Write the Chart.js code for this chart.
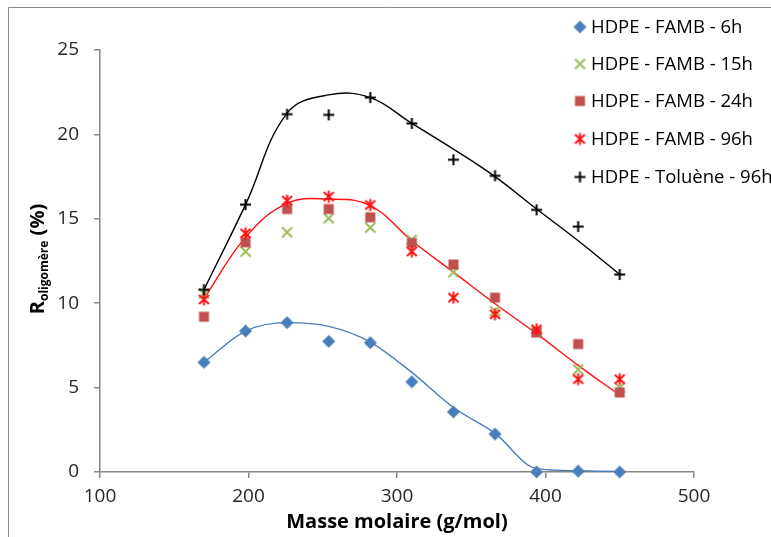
<!DOCTYPE html>
<html>
<head>
<meta charset="utf-8">
<script src="https://cdn.jsdelivr.net/npm/chart.js@4/dist/chart.umd.min.js"></script>
<style>
  html, body { margin: 0; padding: 0; background: #fff; }
  #wrap { position: relative; width: 771px; height: 537px; }
</style>
</head>
<body>
<div id="wrap"><canvas id="myChart" width="771" height="537"></canvas></div>
<script>
// molar masses of the oligomers (g/mol)
const massX = [170, 198, 226, 254, 282, 310, 338, 366, 394, 422, 450];

// measured points, R oligomère (%)
const r6h  = [6.5, 8.35, 8.85, 7.74, 7.66, 5.34, 3.56, 2.25, 0.0, 0.05, 0.0];
const r15h = [10.56, 13.06, 14.2, 15.03, 14.48, 13.75, 11.84, 9.53, 8.3, 6.07, 5.0];
const r24h = [9.2, 13.61, 15.58, 15.58, 15.09, 13.57, 12.29, 10.33, 8.26, 7.58, 4.71];
const r96h = [10.22, 14.14, 16.08, 16.31, 15.82, 13.06, 10.33, 9.34, 8.45, 5.5, 5.5];
const rTol = [10.8, 15.84, 21.2, 21.16, 22.18, 20.65, 18.5, 17.55, 15.53, 14.54, 11.7];

// fitted curves
const fit6h   = [6.5, 8.35, 8.85, 8.63, 7.7, 5.9, 3.82, 2.29, 0.2, 0.08, 0.02];
const fitFamb = [10.26, 13.9, 15.92, 16.17, 15.78, 13.7, 11.84, 9.97, 8.2, 6.32, 4.55];
const fitTol  = [10.8, 15.84, 21.26, 22.34, 22.18, 20.65, 19.13, 17.5, 15.58, 13.7, 11.7];

const seriesLabels = ['HDPE - FAMB - 6h', 'HDPE - FAMB - 15h', 'HDPE - FAMB - 24h', 'HDPE - FAMB - 96h', 'HDPE - Toluène - 96h'];
const xTicks = [100, 200, 300, 400, 500];
const yTicks = [0, 5, 10, 15, 20, 25];

const FONT = "'Open Sans'";

// small canvases used as marker shapes (Excel-like)
function makeMarker(kind, color) {
    const c = document.createElement('canvas');
    c.width = 15; c.height = 15;
    const g = c.getContext('2d');
    g.translate(7.5, 7.5);
    g.fillStyle = color;
    g.strokeStyle = color;
    g.lineWidth = 2;
    g.beginPath();
    if (kind === 'diamond') {
        g.moveTo(0, -6.5); g.lineTo(6.5, 0); g.lineTo(0, 6.5); g.lineTo(-6.5, 0);
        g.closePath(); g.fill();
    } else if (kind === 'x') {
        g.moveTo(-5, -5); g.lineTo(5, 5); g.moveTo(5, -5); g.lineTo(-5, 5);
        g.stroke();
    } else if (kind === 'square') {
        g.fillRect(-5, -5, 10, 10);
    } else if (kind === 'asterisk') {
        g.moveTo(-5, -4.5); g.lineTo(5, 4.5); g.moveTo(5, -4.5); g.lineTo(-5, 4.5);
        g.moveTo(0, -6); g.lineTo(0, 6);
        g.stroke();
    } else {
        g.moveTo(-5.5, 0); g.lineTo(5.5, 0); g.moveTo(0, -5.5); g.lineTo(0, 5.5);
        g.stroke();
    }
    return c;
}

const markers = [
    makeMarker('diamond', '#4A7EBB'),
    makeMarker('x', '#9BBB59'),
    makeMarker('square', '#C0504D'),
    makeMarker('asterisk', '#FF1010'),
    makeMarker('plus', '#000000')
];

function pts(ys) {
    return massX.map((x, i) => ({ x: x, y: ys[i] }));
}

const pointSets = [r6h, r15h, r24h, r96h, rTol].map((ys, i) => ({
    label: seriesLabels[i],
    data: pts(ys),
    showLine: false,
    pointStyle: markers[i],
    pointRadius: 6,
    clip: false,
    order: 5 - i
}));

const curveSets = [
    { data: pts(fit6h), borderColor: '#4A7EBB', cubicInterpolationMode: 'monotone' },
    { data: pts(fitFamb), borderColor: '#FF1010', tension: 0.4 },
    { data: pts(fitTol), borderColor: '#000000', tension: 0.4 }
].map(d => Object.assign(d, {
    showLine: true,
    pointRadius: 0,
    borderWidth: 1.4,
    fill: false,
    order: 10
}));

// frame, y title with subscript, floating legend
const extrasPlugin = {
    id: 'extras',
    afterDraw(chart) {
        const ctx = chart.ctx;
        ctx.save();
        // outer frame (left + top)
        ctx.strokeStyle = '#8a8a8a';
        ctx.lineWidth = 1;
        ctx.beginPath();
        ctx.moveTo(8.5, 537);
        ctx.lineTo(8.5, 7.5);
        ctx.lineTo(771, 7.5);
        ctx.stroke();

        // y axis title: R_oligomère (%)
        ctx.translate(44, 259);
        ctx.rotate(-Math.PI / 2);
        ctx.fillStyle = '#000';
        ctx.textBaseline = 'alphabetic';
        const big = 'bold 20px ' + FONT;
        const small = 'bold 12px ' + FONT;
        ctx.font = big;
        const wR = ctx.measureText('R').width;
        const wP = ctx.measureText(' (%)').width;
        ctx.font = small;
        const wS = ctx.measureText('oligomère').width;
        let x0 = -(wR + wS + wP) / 2;
        ctx.font = big;
        ctx.fillText('R', x0, 0);
        ctx.font = small;
        ctx.fillText('oligomère', x0 + wR, 4);
        ctx.font = big;
        ctx.fillText(' (%)', x0 + wR + wS, 0);
        ctx.restore();

        // legend
        ctx.save();
        ctx.font = '18.5px ' + FONT;
        ctx.fillStyle = '#000';
        ctx.textBaseline = 'middle';
        const rowY = [27, 64, 101, 139, 177];
        seriesLabels.forEach((lab, i) => {
            const m = markers[i];
            ctx.drawImage(m, 580 - m.width / 2, rowY[i] - m.height / 2);
            ctx.fillText(lab, 591, rowY[i] + 1);
        });
        ctx.restore();
    }
};

const ctx = document.getElementById('myChart').getContext('2d');
const myChart = new Chart(ctx, {
    type: 'scatter',
    data: { datasets: pointSets.concat(curveSets) },
    options: {
        responsive: false,
        animation: false,
        layout: { padding: { left: 0, right: 77, top: 50, bottom: 0 } },
        scales: {
            x: {
                type: 'linear',
                min: 100,
                max: 500,
                afterBuildTicks: s => { s.ticks = xTicks.map(v => ({ value: v })); },
                afterFit: s => { s.height = 65; },
                grid: { display: true, drawOnChartArea: false, drawTicks: true, tickLength: 6, color: '#868686', lineWidth: 1.5 },
                border: { display: true, color: '#868686', width: 1.5 },
                ticks: { color: '#262626', font: { family: FONT, size: 19 }, padding: 7, maxRotation: 0 },
                title: {
                    display: true,
                    text: 'Masse molaire (g/mol)',
                    color: '#000',
                    font: { family: FONT, size: 20, weight: 'bold' },
                    padding: { top: 0, bottom: 3 }
                }
            },
            y: {
                type: 'linear',
                min: 0,
                max: 25,
                afterBuildTicks: s => { s.ticks = yTicks.map(v => ({ value: v })); },
                afterFit: s => { s.width = 100; },
                grid: { display: true, drawOnChartArea: false, drawTicks: true, tickLength: 6, color: '#868686', lineWidth: 1.5 },
                border: { display: true, color: '#868686', width: 1.5 },
                ticks: { color: '#262626', font: { family: FONT, size: 19 }, padding: 15 }
            }
        },
        plugins: {
            legend: { display: false },
            tooltip: { enabled: false },
            title: { display: false }
        }
    },
    plugins: [extrasPlugin]
});
</script>
</body>
</html>
